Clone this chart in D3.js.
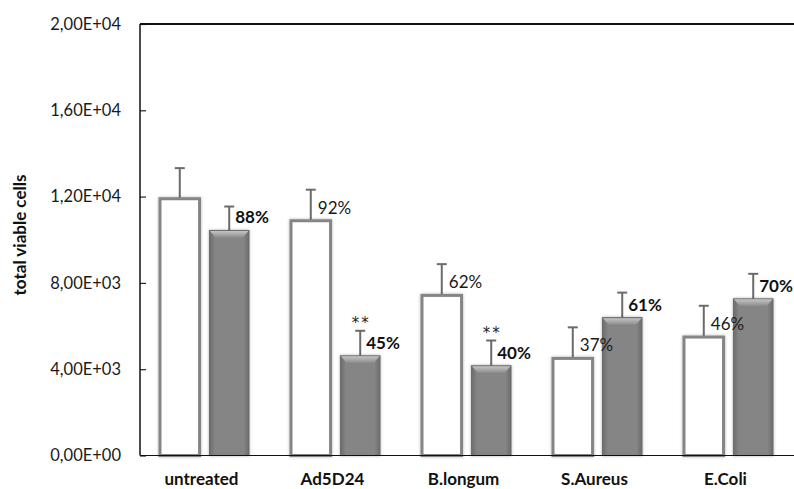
<!DOCTYPE html>
<html>
<head>
<meta charset="utf-8">
<script src="https://cdn.jsdelivr.net/npm/d3@7"></script>
<style>
  body { margin: 0; background: #fff; }
  svg { display: block; font-family: Lato, "Open Sans", sans-serif; }
  .tick-label { font-size: 16.5px; fill: #1a1a1a; }
  .cat-label { font-size: 17px; font-weight: bold; fill: #111; }
  .pct { font-size: 17px; fill: #1a1a1a; }
  .pct.bold { font-weight: bold; fill: #111; }
  .star { font-family: "DejaVu Sans", sans-serif; font-size: 15px; fill: #222; letter-spacing: 2px; }
</style>
</head>
<body>
<svg id="chart" width="794" height="489"></svg>
<script>
// ---- data ----
const categories = ['untreated', 'Ad5D24', 'B.longum', 'S.Aureus', 'E.Coli'];
const whiteValues = [11900, 10880, 7420, 4500, 5490];
const whiteErrors = [1420, 1440, 1450, 1440, 1450];
const greyValues = [10430, 4620, 4160, 6390, 7260];
const greyErrors = [1110, 1160, 1170, 1160, 1160];
const whiteLabels = ['', '92%', '62%', '37%', '46%'];
const greyLabels = ['88%', '45%', '40%', '61%', '70%'];
const greyStars = ['', '**', '**', '', ''];
const yTicks = [0, 4000, 8000, 12000, 16000, 20000];

// ---- layout ----
const plotLeft = 140, plotRight = 795, plotTop = 24, plotBottom = 455.5;

const svg = d3.select('#chart');
const defs = svg.append('defs');

const greyGrad = defs.append('linearGradient').attr('id', 'greyGrad')
  .attr('x1', 0).attr('x2', 1).attr('y1', 0).attr('y2', 0);
greyGrad.append('stop').attr('offset', '0%').attr('stop-color', '#6c6c6c');
greyGrad.append('stop').attr('offset', '14%').attr('stop-color', '#858585');
greyGrad.append('stop').attr('offset', '86%').attr('stop-color', '#858585');
greyGrad.append('stop').attr('offset', '100%').attr('stop-color', '#6c6c6c');

const bevelGrad = defs.append('linearGradient').attr('id', 'bevelGrad')
  .attr('x1', 0).attr('x2', 0).attr('y1', 0).attr('y2', 1);
bevelGrad.append('stop').attr('offset', '0%').attr('stop-color', '#c4c4c4');
bevelGrad.append('stop').attr('offset', '100%').attr('stop-color', '#8e8e8e');

const shadow = defs.append('filter').attr('id', 'shadow')
  .attr('x', '-30%').attr('y', '-10%').attr('width', '160%').attr('height', '120%');
shadow.append('feDropShadow').attr('dx', 0).attr('dy', 0)
  .attr('stdDeviation', 1.6).attr('flood-color', '#000').attr('flood-opacity', 0.3);

const x0 = d3.scaleBand().domain(categories).range([plotLeft, plotRight]);
const x1 = d3.scaleBand().domain(['white', 'grey'])
  .range([20, 109]).paddingInner(0.2);
const y = d3.scaleLinear().domain([0, 20000]).range([plotBottom, plotTop]);

function sci(v) {
  if (v === 0) return '0,00E+00';
  const e = Math.floor(Math.log10(v));
  const m = (v / Math.pow(10, e)).toFixed(2).replace('.', ',');
  return m + 'E+' + String(e).padStart(2, '0');
}

// ---- axes ----
const yAxis = svg.append('g').attr('transform', `translate(${plotLeft},0)`)
  .call(d3.axisRight(y).tickValues(yTicks).tickSize(6).tickFormat(''));
yAxis.select('.domain').remove();
yAxis.selectAll('.tick line').attr('stroke', '#222').attr('stroke-width', 1.2);

svg.selectAll('.tick-label')
  .data(yTicks)
  .enter()
  .append('text')
  .attr('class', 'tick-label')
  .attr('x', 121)
  .attr('y', d => y(d))
  .attr('dy', '0.35em')
  .attr('text-anchor', 'end')
  .text(d => sci(d));

svg.append('line').attr('x1', plotLeft).attr('x2', plotLeft).attr('y1', plotTop).attr('y2', plotBottom)
  .attr('stroke', '#111').attr('stroke-width', 1.5);
svg.append('line').attr('x1', plotLeft).attr('x2', 794).attr('y1', plotTop).attr('y2', plotTop)
  .attr('stroke', '#111').attr('stroke-width', 2);

svg.append('text')
  .attr('transform', 'translate(26,235) rotate(-90)')
  .attr('text-anchor', 'middle')
  .style('font-size', '17px')
  .style('font-weight', 'bold')
  .attr('fill', '#111')
  .text('total viable cells');

// ---- bars ----
const rows = categories.map((c, i) => ({
  cat: c,
  white: whiteValues[i], whiteErr: whiteErrors[i], whiteLabel: whiteLabels[i],
  grey: greyValues[i], greyErr: greyErrors[i], greyLabel: greyLabels[i], star: greyStars[i]
}));

const groups = svg.selectAll('.grp')
  .data(rows)
  .enter()
  .append('g')
  .attr('class', 'grp')
  .attr('transform', d => `translate(${x0(d.cat)},0)`);

const bw = x1.bandwidth();

// error bars (drawn first, bars sit on top)
function errorBar(sel, key, errKey, sub) {
  const cx = x1(sub) + bw / 2;
  sel.append('line')
    .attr('x1', cx).attr('x2', cx)
    .attr('y1', d => y(d[key]))
    .attr('y2', d => y(d[key] + d[errKey]))
    .attr('stroke', '#6b6b6b').attr('stroke-width', 2);
  sel.append('line')
    .attr('x1', cx - 5).attr('x2', cx + 5)
    .attr('y1', d => y(d[key] + d[errKey]))
    .attr('y2', d => y(d[key] + d[errKey]))
    .attr('stroke', '#6b6b6b').attr('stroke-width', 2);
}
errorBar(groups, 'white', 'whiteErr', 'white');
errorBar(groups, 'grey', 'greyErr', 'grey');

groups.append('rect')
  .attr('x', x1('white'))
  .attr('y', d => y(d.white))
  .attr('width', bw)
  .attr('height', d => plotBottom - y(d.white))
  .attr('fill', '#fff')
  .attr('stroke', '#858585')
  .attr('stroke-width', 3)
  .attr('filter', 'url(#shadow)');

groups.append('rect')
  .attr('x', x1('grey'))
  .attr('y', d => y(d.grey))
  .attr('width', bw)
  .attr('height', d => plotBottom - y(d.grey))
  .attr('fill', 'url(#greyGrad)')
  .attr('stroke', '#6a6a6a')
  .attr('stroke-width', 1)
  .attr('filter', 'url(#shadow)');

groups.append('polygon')
  .attr('points', d => {
    const gx = x1('grey'), gy = y(d.grey);
    return [[gx + 0.5, gy + 0.5], [gx + bw - 0.5, gy + 0.5], [gx + bw - 6, gy + 7], [gx + 6, gy + 7]]
      .map(p => p.join(',')).join(' ');
  })
  .attr('fill', 'url(#bevelGrad)');

// bottom axis line over bars
svg.append('line').attr('x1', plotLeft).attr('x2', 794).attr('y1', plotBottom).attr('y2', plotBottom)
  .attr('stroke', '#111').attr('stroke-width', 1.2);

// ---- labels ----
groups.append('text')
  .attr('class', 'pct')
  .attr('x', x1('white') + bw / 2 + 7)
  .attr('y', d => y(d.white) - 7)
  .text(d => d.whiteLabel);

groups.append('text')
  .attr('class', 'pct bold')
  .attr('x', x1('grey') + bw / 2 + 6)
  .attr('y', d => y(d.grey) - 7)
  .text(d => d.greyLabel);

groups.append('text')
  .attr('class', 'star')
  .attr('x', x1('grey') + bw / 2 + 1)
  .attr('y', d => y(d.grey + d.greyErr) - 3)
  .attr('text-anchor', 'middle')
  .text(d => d.star);

groups.append('text')
  .attr('class', 'cat-label')
  .attr('x', x0.bandwidth() / 2 - 4)
  .attr('y', 485)
  .attr('text-anchor', 'middle')
  .text(d => d.cat);
</script>
</body>
</html>
